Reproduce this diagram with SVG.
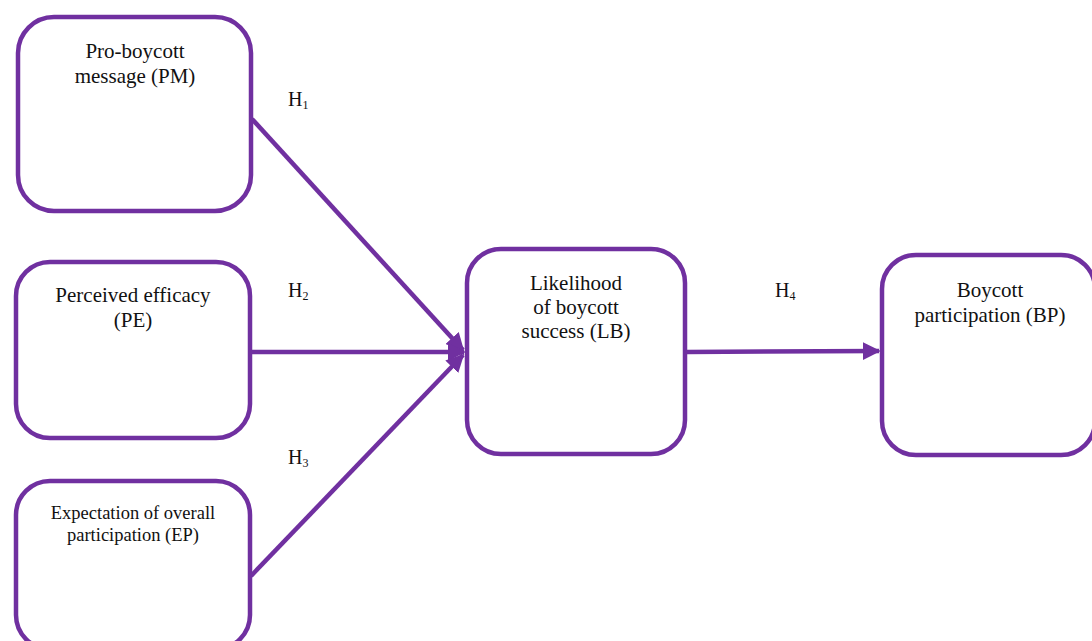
<svg xmlns="http://www.w3.org/2000/svg" width="1092" height="641" viewBox="0 0 1092 641">
<style>
.box{fill:#fff;stroke:#7030A0;stroke-width:4.5}
.edge{stroke:#7030A0;stroke-width:4.5;fill:none}
.t{font-family:"Liberation Serif","Times New Roman",serif;font-size:21px;fill:#111;text-anchor:middle}
.s{font-size:18.5px}
.h{font-family:"Liberation Serif","Times New Roman",serif;font-size:20px;fill:#111}
.sub{font-size:12px}
</style>
<defs>
<marker id="arr" viewBox="0 0 10 10" refX="9" refY="5" markerWidth="4" markerHeight="4" markerUnits="strokeWidth" orient="auto">
<path d="M0,0 L10,5 L0,10 z" fill="#7030A0"/>
</marker>
</defs>
<rect width="1092" height="641" fill="#fff"/>
<g id="connectors">
<line class="edge" x1="252" y1="119" x2="463" y2="350" marker-end="url(#arr)"/>
<line class="edge" x1="251" y1="352" x2="464" y2="352" marker-end="url(#arr)"/>
<line class="edge" x1="251" y1="576" x2="463" y2="355" marker-end="url(#arr)"/>
<line class="edge" x1="687" y1="352" x2="879" y2="351" marker-end="url(#arr)"/>
</g>
<g id="PM">
<rect class="box" x="18" y="17" width="233" height="194" rx="36"/>
<text class="t" x="135" y="58">Pro-boycott</text>
<text class="t" x="135" y="83">message (PM)</text>
</g>
<g id="PE">
<rect class="box" x="16" y="262" width="234" height="176" rx="34"/>
<text class="t" x="133" y="302">Perceived efficacy</text>
<text class="t" x="133" y="327">(PE)</text>
</g>
<g id="EP">
<rect class="box" x="16" y="481" width="234" height="168" rx="34"/>
<text class="t s" x="133" y="519">Expectation of overall</text>
<text class="t s" x="133" y="541">participation (EP)</text>
</g>
<g id="LB">
<rect class="box" x="467" y="249" width="218" height="205" rx="34"/>
<text class="t" x="576" y="290">Likelihood</text>
<text class="t" x="576" y="314">of boycott</text>
<text class="t" x="576" y="338">success (LB)</text>
</g>
<g id="BP">
<rect class="box" x="882" y="255" width="213" height="200" rx="34"/>
<text class="t" x="990" y="297">Boycott</text>
<text class="t" x="990" y="322">participation (BP)</text>
</g>
<g id="labels">
<text class="h" x="288" y="106">H<tspan class="sub" dy="3">1</tspan></text>
<text class="h" x="288" y="297">H<tspan class="sub" dy="3">2</tspan></text>
<text class="h" x="288" y="464">H<tspan class="sub" dy="3">3</tspan></text>
<text class="h" x="775" y="297">H<tspan class="sub" dy="3">4</tspan></text>
</g>
</svg>
